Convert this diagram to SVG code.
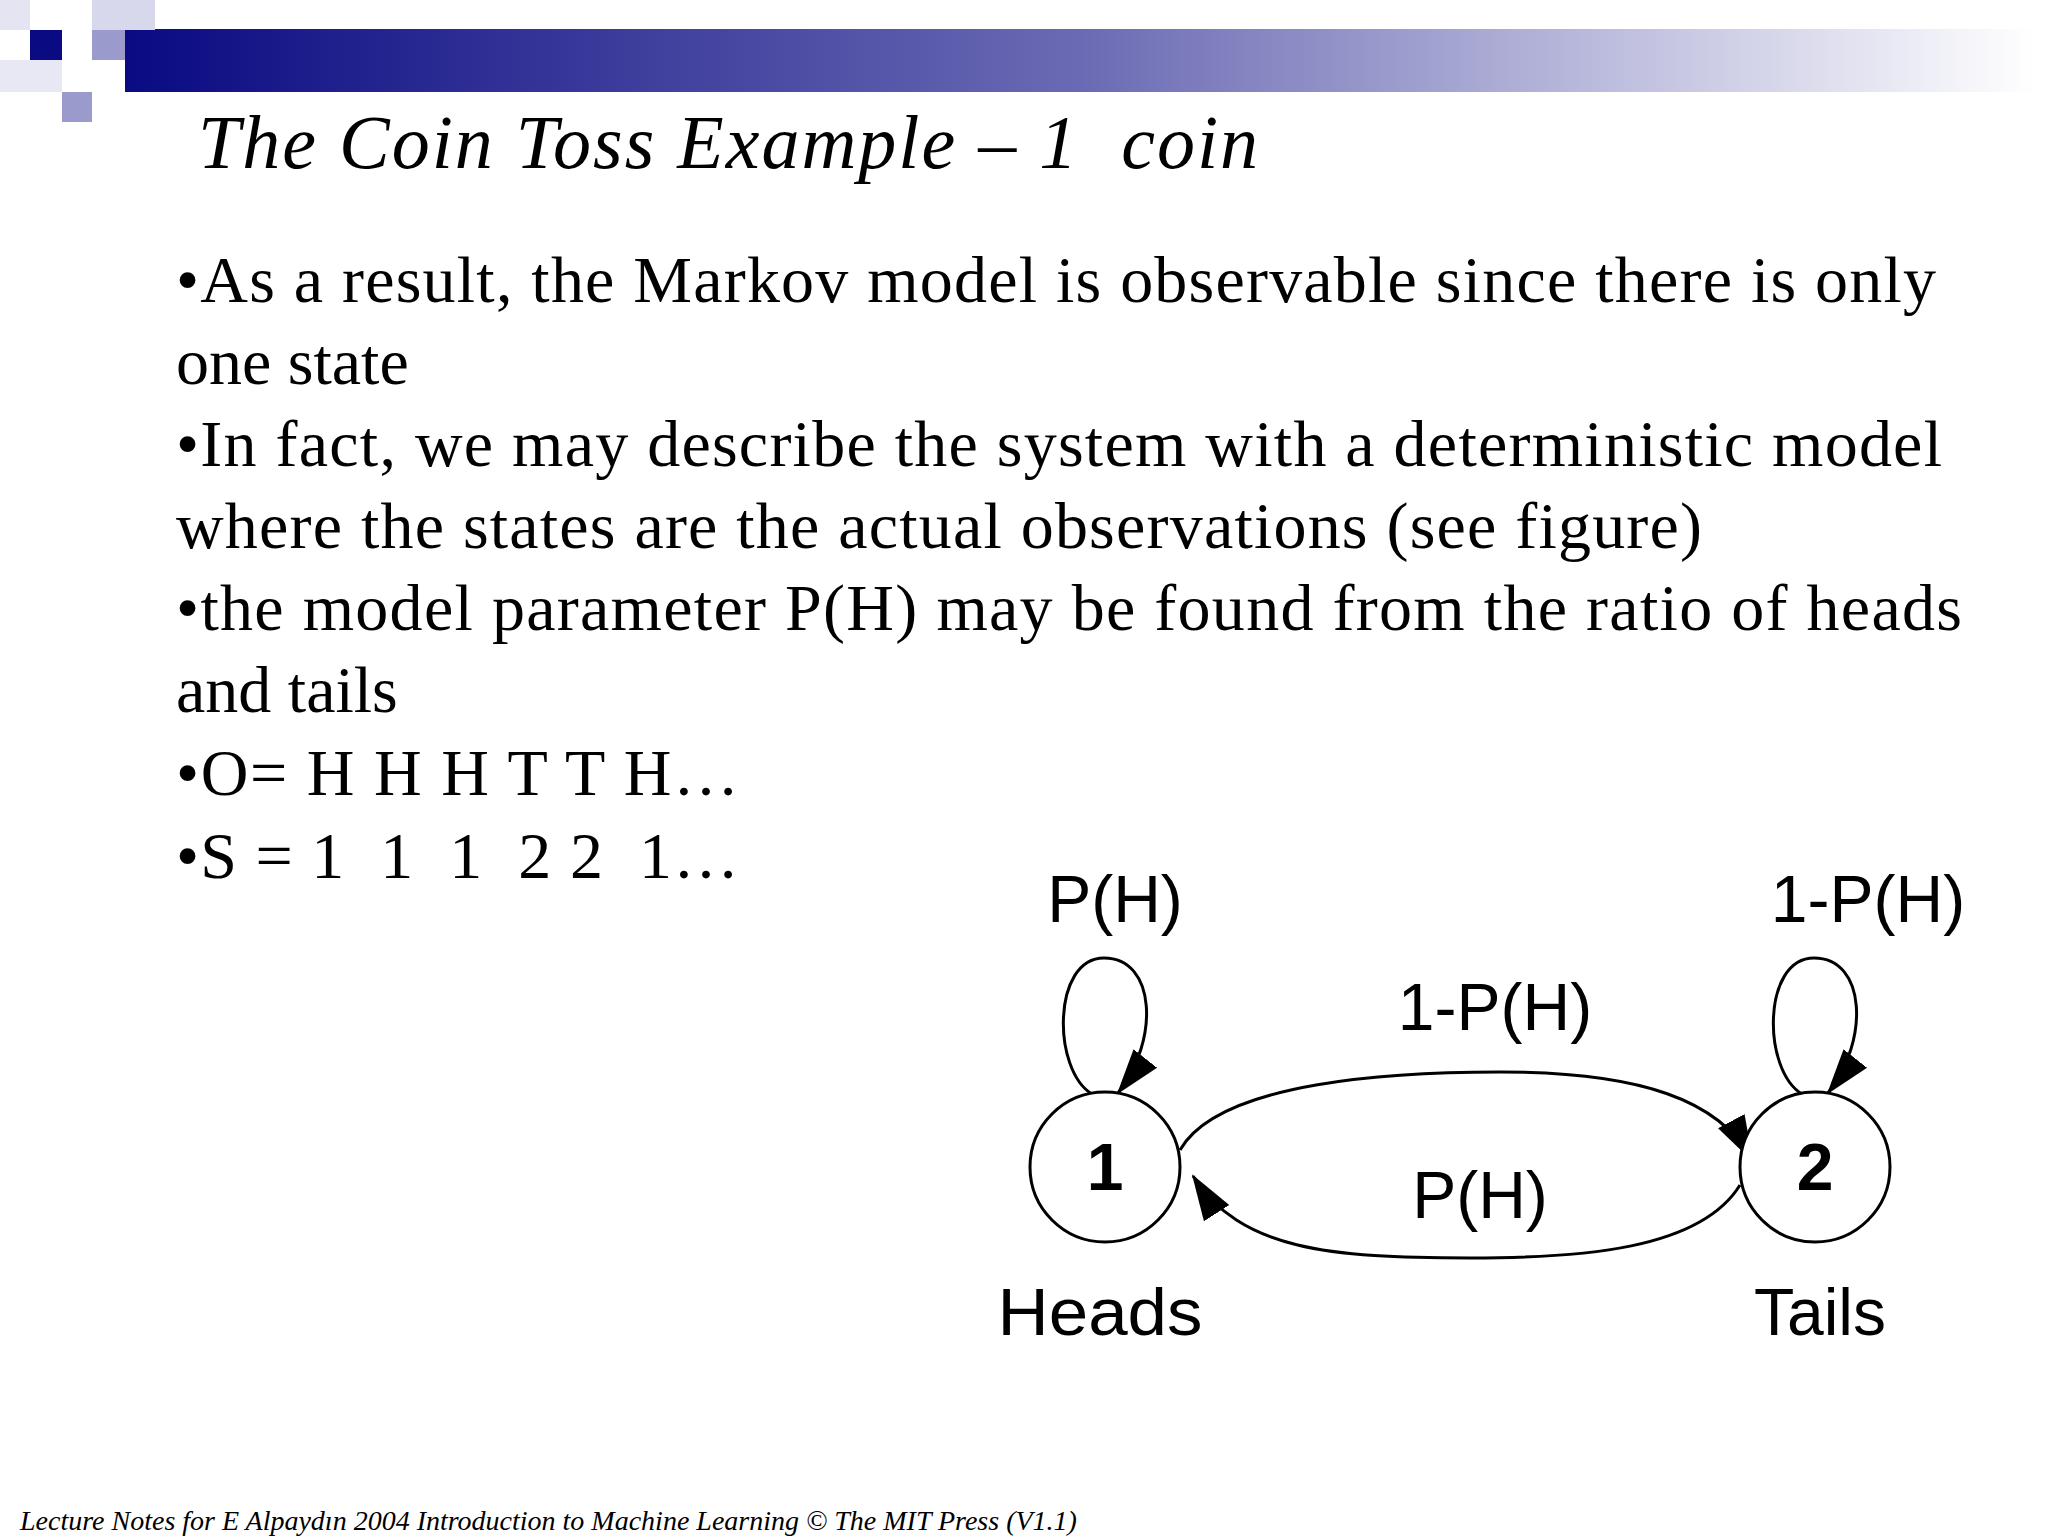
<svg xmlns="http://www.w3.org/2000/svg" width="2048" height="1536" viewBox="0 0 2048 1536">
<defs>
<linearGradient id="bar" x1="0" x2="1" y1="0" y2="0">
<stop offset="0" stop-color="#0a0a82"/><stop offset="0.5" stop-color="#6a6ab4"/><stop offset="1" stop-color="#ffffff"/>
</linearGradient>
<marker id="ahb" markerWidth="46" markerHeight="34" refX="44" refY="17" orient="auto" markerUnits="userSpaceOnUse" viewBox="0 0 46 34">
<path d="M0,2 L46,17 L0,32 z" fill="#000"/>
</marker>
</defs>
<style>
.body{font-family:"Liberation Serif",serif;font-size:66px;fill:#000}
.lbl{font-family:"Liberation Sans",Arial,sans-serif;font-size:66px;fill:#000;text-anchor:middle}
.num{font-family:"Liberation Sans",Arial,sans-serif;font-size:66px;font-weight:bold;fill:#000;text-anchor:middle}
.node{fill:#fff;stroke:#000;stroke-width:3}
.edge{fill:none;stroke:#000;stroke-width:3}
</style>
<rect width="2048" height="1536" fill="#fff"/>
<rect x="125" y="29" width="1910" height="63" fill="url(#bar)"/>
<rect x="0" y="0" width="30" height="30" fill="#e4e4f2"/>
<rect x="92" y="0" width="63" height="30" fill="#d8d8ec"/>
<rect x="30" y="30" width="32" height="30" fill="#0a0a82"/>
<rect x="92" y="30" width="33" height="30" fill="#9a9acc"/>
<rect x="0" y="60" width="62" height="32" fill="#e8e8f4"/>
<rect x="62" y="92" width="30" height="30" fill="#9a9acc"/>
<text x="198" y="168" font-family="Liberation Serif,serif" font-style="italic" font-size="76" textLength="1060" lengthAdjust="spacing" xml:space="preserve">The Coin Toss Example – 1  coin</text>
<text class="body" x="176" y="302" textLength="1760" lengthAdjust="spacing">•As a result, the Markov model is observable since there is only</text>
<text class="body" x="176" y="384">one state</text>
<text class="body" x="176" y="466" textLength="1766" lengthAdjust="spacing">•In fact, we may describe the system with a deterministic model</text>
<text class="body" x="176" y="548" textLength="1526" lengthAdjust="spacing">where the states are the actual observations (see figure)</text>
<text class="body" x="176" y="630" textLength="1786" lengthAdjust="spacing">•the model parameter P(H) may be found from the ratio of heads</text>
<text class="body" x="176" y="712">and tails</text>
<text class="body" x="176" y="795" textLength="563" lengthAdjust="spacing">•O= H H H T T H…</text>
<text class="body" x="176" y="878" textLength="563" lengthAdjust="spacing" xml:space="preserve">•S = 1  1  1  2 2  1…</text>
<g id="edges">
<path class="edge" d="M1092,1094 C1052,1070 1052,958 1104,958 C1156,958 1160,1040 1118,1093" marker-end="url(#ahb)"/>
<path class="edge" d="M1802,1094 C1762,1070 1762,958 1814,958 C1866,958 1870,1040 1828,1093" marker-end="url(#ahb)"/>
<path class="edge" d="M1180,1150 C1220,1080 1400,1072 1500,1072 C1640,1072 1720,1100 1752,1160" marker-end="url(#ahb)"/>
<path class="edge" d="M1740,1185 C1700,1250 1580,1258 1470,1258 C1330,1258 1240,1250 1193,1176" marker-end="url(#ahb)"/>
</g>
<g id="node1"><circle class="node" cx="1105" cy="1167" r="75"/><text class="num" x="1105" y="1190">1</text></g>
<g id="node2"><circle class="node" cx="1815" cy="1167" r="75"/><text class="num" x="1815" y="1190">2</text></g>
<text class="lbl" x="1100" y="1335" textLength="205" lengthAdjust="spacingAndGlyphs">Heads</text>
<text class="lbl" x="1820" y="1335">Tails</text>
<text class="lbl" x="1115" y="922">P(H)</text>
<text class="lbl" x="1868" y="922">1-P(H)</text>
<text class="lbl" x="1495" y="1030">1-P(H)</text>
<text class="lbl" x="1480" y="1218">P(H)</text>
<text x="20" y="1530" font-family="Liberation Serif,serif" font-style="italic" font-size="28">Lecture Notes for E Alpaydın 2004 Introduction to Machine Learning © The MIT Press (V1.1)</text>
</svg>
